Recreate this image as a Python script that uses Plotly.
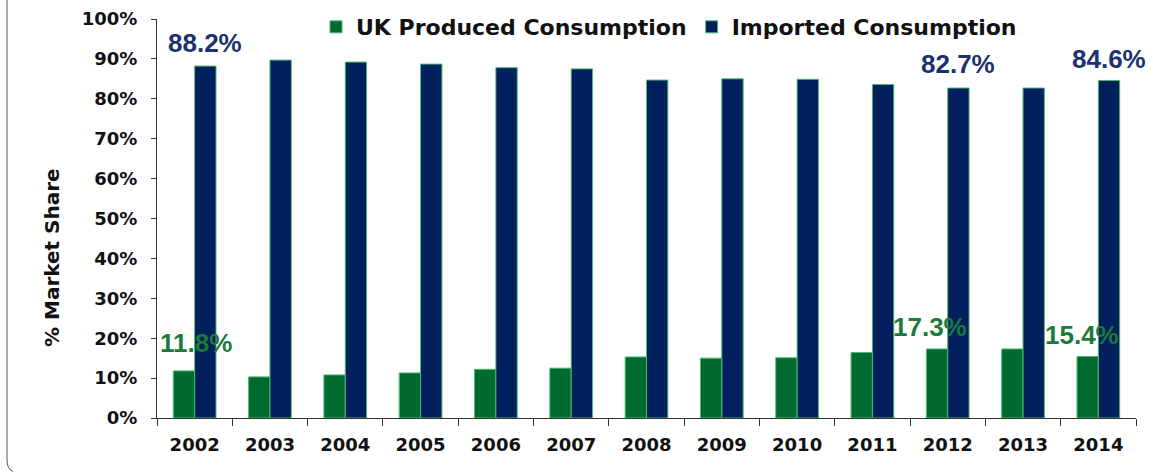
import plotly.graph_objects as go

years = ["2002", "2003", "2004", "2005", "2006", "2007", "2008",
         "2009", "2010", "2011", "2012", "2013", "2014"]
uk_produced = [11.8, 10.3, 10.8, 11.3, 12.2, 12.5, 15.3, 15.0, 15.1, 16.4, 17.3, 17.3, 15.4]
imported = [88.2, 89.7, 89.2, 88.7, 87.8, 87.5, 84.7, 85.0, 84.9, 83.6, 82.7, 82.7, 84.6]
y_ticks = [0, 10, 20, 30, 40, 50, 60, 70, 80, 90, 100]
y_tick_labels = [f"{v}%" for v in y_ticks]

# value labels: (category index offset, y position, text)
imp_labels = [(0.14, 94.0, "88.2%"), (10.14, 88.7, "82.7%"), (12.14, 90.1, "84.6%")]
uk_labels = [(0.02, 18.8, "11.8%"), (9.76, 22.8, "17.3%"), (11.78, 20.8, "15.4%")]

GREEN = "#006A30"
NAVY = "#001F5C"
EDGE = "#4DB870"
AX_FONT = dict(family="DejaVu Sans", size=18, color="#111111", weight="bold")

fig = go.Figure()
fig.add_trace(go.Bar(x=years, y=uk_produced, name="UK Produced Consumption",
                     marker=dict(color=GREEN, line=dict(color=EDGE, width=1))))
fig.add_trace(go.Bar(x=years, y=imported, name="Imported Consumption",
                     marker=dict(color=NAVY, line=dict(color=EDGE, width=1))))

pw, ph = 979.0, 399.0

annotations = []
for xi, yv, t in imp_labels:
    annotations.append(dict(x=xi, y=yv, xref="x", yref="y", text=f"<b>{t}</b>", showarrow=False,
                            font=dict(family="Liberation Sans, Arial", size=26, color="#1B3170")))
for xi, yv, t in uk_labels:
    annotations.append(dict(x=xi, y=yv, xref="x", yref="y", text=f"<b>{t}</b>", showarrow=False,
                            font=dict(family="Liberation Sans, Arial", size=26, color="#1D7A3A")))
annotations.append(dict(x=(52 - 157) / pw, y=0.401, xref="paper", yref="paper",
                        xanchor="center", yanchor="middle", text="<b>% Market Share</b>",
                        textangle=-90, showarrow=False,
                        font=dict(family="DejaVu Sans", size=20, color="#111111")))

def px(xp):
    return (xp - 157) / pw

def py(yp):
    return (418 - yp) / ph

# visible part of the rounded outer frame: left edge and start of bottom-left corner
frame_path = (f"M {px(7)},{py(0)} L {px(7)},{py(460)} "
              f"Q {px(7)},{py(469)} {px(13)},{py(471.5)}")

fig.update_layout(
    width=1153, height=472, autosize=False,
    margin=dict(l=157, r=17, t=19, b=54, pad=0, autoexpand=False),
    paper_bgcolor="white", plot_bgcolor="white",
    barmode="group", bargap=0.433, bargroupgap=0,
    showlegend=True,
    legend=dict(orientation="h", xref="paper", x=px(316), xanchor="left",
                yref="container", y=1 - 27 / 472.0, yanchor="middle",
                font=dict(family="DejaVu Sans", size=22, color="#111111", weight="bold"),
                bgcolor="rgba(0,0,0,0)", traceorder="normal"),
    annotations=annotations,
    shapes=[dict(type="path", xref="paper", yref="paper", path=frame_path,
                 line=dict(color="#555555", width=1), layer="below")],
)
fig.update_xaxes(type="category", range=[-0.5, 12.5], autorange=False,
                 showline=True, linecolor="#333333", linewidth=1,
                 ticks="outside", tickson="boundaries", ticklen=7, tickcolor="#333333",
                 tickfont=AX_FONT, showgrid=False, ticklabelstandoff=10)
fig.update_yaxes(range=[0, 100], tickvals=y_ticks, ticktext=y_tick_labels,
                 showline=True, linecolor="#333333", linewidth=1,
                 ticks="outside", ticklen=5, tickcolor="#333333",
                 tickfont=AX_FONT, showgrid=False, zeroline=False, ticklabelstandoff=10)

fig.write_html("out.html", config={"responsive": False})
